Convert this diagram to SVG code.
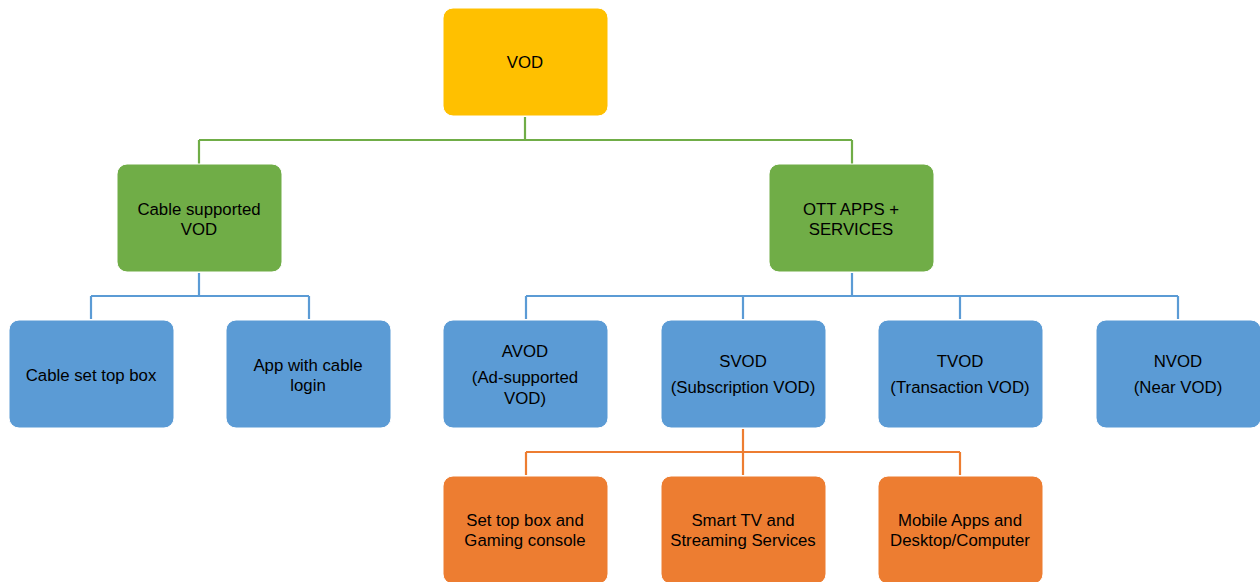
<svg xmlns="http://www.w3.org/2000/svg" width="1260" height="582" viewBox="0 0 1260 582">
  <style>
    .box { stroke: #ffffff; stroke-width: 1; }
    .gold { fill: #FFC000; }
    .green { fill: #70AD47; }
    .blue { fill: #5B9BD5; }
    .orange { fill: #ED7D31; }
    .lbl { font-family: "Liberation Sans", Arial, sans-serif; font-size: 16.8px; fill: #000000; text-anchor: middle; }
    .ln { fill: none; stroke-width: 2.2; }
    .lg { stroke: #70AD47; }
    .lb { stroke: #5B9BD5; }
    .lo { stroke: #ED7D31; }
  </style>
  <rect width="1260" height="582" fill="#ffffff"/>

  <g id="connectors">
    <path class="ln lg" d="M525 117 V140 M199 140 H852 M199 140 V164 M852 140 V164"/>
    <path class="ln lb" d="M199 273 V296 M91 296 H309 M91 296 V319 M309 296 V319"/>
    <path class="ln lb" d="M852 273 V296 M526 296 H1178 M526 296 V319 M743 296 V319 M960 296 V319 M1178 296 V319"/>
    <path class="ln lo" d="M743 429 V452 M526 452 H960 M526 452 V475 M743 452 V475 M960 452 V475"/>
  </g>

  <g id="vod">
    <rect class="box gold" x="443" y="8" width="165" height="108" rx="10"/>
    <text class="lbl" x="525" y="68">VOD</text>
  </g>

  <g id="cable-supported">
    <rect class="box green" x="117" y="164" width="165" height="108" rx="10"/>
    <text class="lbl" x="199" y="215">Cable supported</text>
    <text class="lbl" x="199" y="235">VOD</text>
  </g>

  <g id="ott">
    <rect class="box green" x="769" y="164" width="165" height="108" rx="10"/>
    <text class="lbl" x="851" y="215">OTT APPS +</text>
    <text class="lbl" x="851" y="235">SERVICES</text>
  </g>

  <g id="cable-stb">
    <rect class="box blue" x="9" y="320" width="165" height="108" rx="10"/>
    <text class="lbl" x="91" y="381">Cable set top box</text>
  </g>

  <g id="app-cable-login">
    <rect class="box blue" x="226" y="320" width="165" height="108" rx="10"/>
    <text class="lbl" x="308" y="371">App with cable</text>
    <text class="lbl" x="308" y="391">login</text>
  </g>

  <g id="avod">
    <rect class="box blue" x="443" y="320" width="165" height="108" rx="10"/>
    <text class="lbl" x="525" y="357">AVOD</text>
    <text class="lbl" x="525" y="383">(Ad-supported</text>
    <text class="lbl" x="525" y="404">VOD)</text>
  </g>

  <g id="svod">
    <rect class="box blue" x="661" y="320" width="165" height="108" rx="10"/>
    <text class="lbl" x="743" y="367">SVOD</text>
    <text class="lbl" x="743" y="393">(Subscription VOD)</text>
  </g>

  <g id="tvod">
    <rect class="box blue" x="878" y="320" width="165" height="108" rx="10"/>
    <text class="lbl" x="960" y="367">TVOD</text>
    <text class="lbl" x="960" y="393">(Transaction VOD)</text>
  </g>

  <g id="nvod">
    <rect class="box blue" x="1096" y="320" width="165" height="108" rx="10"/>
    <text class="lbl" x="1178" y="367">NVOD</text>
    <text class="lbl" x="1178" y="393">(Near VOD)</text>
  </g>

  <g id="stb-gaming">
    <rect class="box orange" x="443" y="476" width="165" height="108" rx="10"/>
    <text class="lbl" x="525" y="526">Set top box and</text>
    <text class="lbl" x="525" y="546">Gaming console</text>
  </g>

  <g id="smart-tv">
    <rect class="box orange" x="661" y="476" width="165" height="108" rx="10"/>
    <text class="lbl" x="743" y="526">Smart TV and</text>
    <text class="lbl" x="743" y="546">Streaming Services</text>
  </g>

  <g id="mobile-desktop">
    <rect class="box orange" x="878" y="476" width="165" height="108" rx="10"/>
    <text class="lbl" x="960" y="526">Mobile Apps and</text>
    <text class="lbl" x="960" y="546">Desktop/Computer</text>
  </g>
</svg>
